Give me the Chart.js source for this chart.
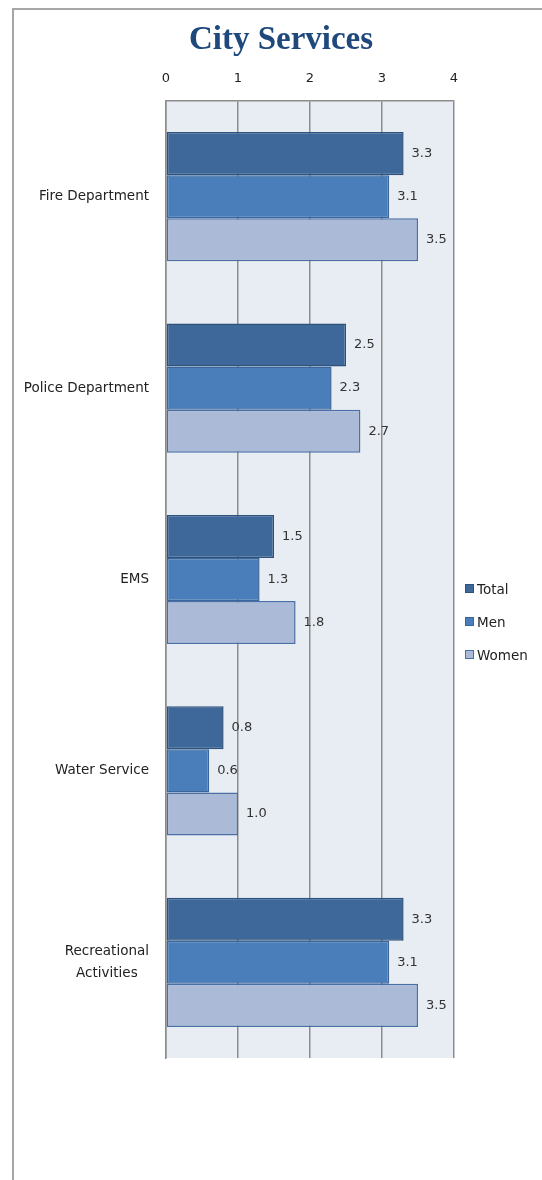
<!DOCTYPE html>
<html lang="en">
<head>
    <meta charset="UTF-8">
    <title>City Services</title>
    <style>
        body {
            margin: 0;
            padding: 0;
            background: #ffffff;
            width: 542px;
            height: 1180px;
            overflow: hidden;
            position: relative;
            font-family: "DejaVu Sans", sans-serif;
        }

        .frame {
            position: absolute;
            left: 12px;
            top: 8px;
            width: 600px;
            height: 1300px;
            border-left: 2px solid #a6a6a6;
            border-top: 2px solid #a6a6a6;
        }

        .chart-box {
            position: absolute;
            left: 0;
            top: 0;
            width: 542px;
            height: 1180px;
        }

        .title {
            position: absolute;
            left: 161px;
            width: 240px;
            top: 20px;
            text-align: center;
            font-family: "Liberation Serif", "DejaVu Serif", serif;
            font-weight: bold;
            font-size: 33px;
            color: #1f497d;
        }

        .legend {
            position: absolute;
            left: 465px;
            top: 580px;
            font-size: 13.5px;
            color: #222;
        }

        .legend div {
            height: 33px;
            line-height: 18px;
        }

        .legend span {
            display: inline-block;
            width: 7px;
            height: 7px;
            margin-right: 3px;
            vertical-align: 1px;
        }
    </style>
</head>
<body>
    <div class="frame"></div>
    <div class="chart-box">
        <canvas id="chart" width="542" height="1180"></canvas>
    </div>
    <div class="title">City Services</div>
    <div class="legend" id="legend"></div>

    <script src="https://cdn.jsdelivr.net/npm/chart.js"></script>
    <script>
        const categories = ['Fire Department', 'Police Department', 'EMS', 'Water Service', ['Recreational', 'Activities']];
        const seriesNames = ['Total', 'Men', 'Women'];
        const totalValues = [3.3, 2.5, 1.5, 0.8, 3.3];
        const menValues = [3.1, 2.3, 1.3, 0.6, 3.1];
        const womenValues = [3.5, 2.7, 1.8, 1.0, 3.5];
        const tickValues = [0, 1, 2, 3, 4];

        const fills = ['#3d6899', '#4a7ebb', '#aabad7'];
        const borders = ['#2f527c', '#3a669c', '#4a6fa5'];
        const textFont = '"DejaVu Sans", sans-serif';

        // plot background
        const plotBg = {
            id: 'plotBg',
            beforeDraw(chart) {
                const a = chart.chartArea;
                const c = chart.ctx;
                c.save();
                c.fillStyle = '#e8ecf3';
                c.fillRect(a.left, a.top, a.right - a.left, a.bottom - a.top);
                c.restore();
            }
        };

        // value labels next to bar ends
        const valueLabels = {
            id: 'valueLabels',
            afterDatasetsDraw(chart) {
                const c = chart.ctx;
                c.save();
                c.font = '13px ' + textFont;
                c.fillStyle = '#333';
                c.textBaseline = 'middle';
                c.textAlign = 'left';
                chart.data.datasets.forEach((ds, i) => {
                    chart.getDatasetMeta(i).data.forEach((bar, j) => {
                        c.fillText(ds.data[j].toFixed(1), bar.x + 8, bar.y);
                    });
                });
                c.restore();
            }
        };

        // category labels: block right-aligned, lines centred within block
        const categoryLabels = {
            id: 'categoryLabels',
            afterDraw(chart) {
                const c = chart.ctx;
                const y = chart.scales.y;
                c.save();
                c.font = '13.5px ' + textFont;
                c.fillStyle = '#222';
                c.textAlign = 'center';
                c.textBaseline = 'middle';
                categories.forEach((label, i) => {
                    const lines = Array.isArray(label) ? label : [label];
                    const w = Math.max(...lines.map(l => c.measureText(l).width));
                    const cx = y.right - 17 - w / 2;
                    const lh = 22;
                    const py = y.getPixelForTick(i);
                    lines.forEach((l, k) => {
                        c.fillText(l, cx, py + (k - (lines.length - 1) / 2) * lh);
                    });
                });
                c.restore();
            }
        };

        const allValues = [totalValues, menValues, womenValues];

        new Chart(document.getElementById('chart'), {
            type: 'bar',
            data: {
                labels: categories,
                datasets: seriesNames.map((name, i) => ({
                    label: name,
                    data: allValues[i],
                    backgroundColor: fills[i],
                    borderColor: borders[i],
                    borderWidth: 1.5,
                    borderSkipped: false,
                    barPercentage: 1.0,
                    categoryPercentage: 0.675
                }))
            },
            options: {
                indexAxis: 'y',
                responsive: false,
                animation: false,
                layout: {
                    padding: { top: 65, right: 88, bottom: 122, left: 0 }
                },
                plugins: {
                    legend: { display: false },
                    tooltip: { enabled: false }
                },
                scales: {
                    x: {
                        position: 'top',
                        min: 0,
                        max: 4,
                        afterFit(scale) { scale.height = 36; },
                        afterBuildTicks(scale) {
                            scale.ticks = tickValues.map(v => ({ value: v }));
                        },
                        ticks: {
                            padding: 15,
                            color: '#222',
                            font: { size: 13, family: textFont }
                        },
                        grid: {
                            color: '#8c8c8c',
                            lineWidth: 1.5,
                            drawTicks: false
                        },
                        border: { color: '#8c8c8c', width: 1.5 }
                    },
                    y: {
                        afterFit(scale) { scale.width = 166; },
                        ticks: { display: false },
                        grid: { display: false, drawTicks: false },
                        border: { color: '#8c8c8c', width: 1.5 }
                    }
                }
            },
            plugins: [plotBg, valueLabels, categoryLabels]
        });

        // legend
        const legend = document.getElementById('legend');
        seriesNames.forEach((name, i) => {
            const row = document.createElement('div');
            row.innerHTML = '<span style="background:' + fills[i] + ';border:1px solid ' + borders[i] + '"></span>' + name;
            legend.appendChild(row);
        });
    </script>
</body>
</html>
